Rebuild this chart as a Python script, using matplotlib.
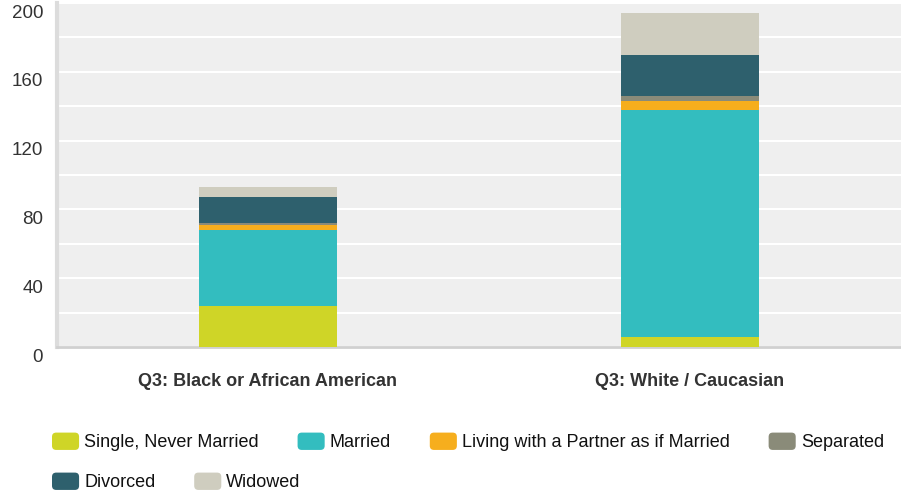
import matplotlib
matplotlib.use("Agg")
import matplotlib.pyplot as plt
import matplotlib.transforms as mtransforms
from matplotlib.patches import Patch, FancyBboxPatch
from matplotlib.legend_handler import HandlerPatch
import numpy as np

# data
categories = ["Q3: Black or African American", "Q3: White / Caucasian"]
series_names = ["Single, Never Married", "Married", "Living with a Partner as if Married",
                "Separated", "Divorced", "Widowed"]
single = [24, 6]
married = [44, 132]
living = [3, 5]
separated = [1, 3]
divorced = [15, 24]
widowed = [6, 24]
colors = ["#cfd527", "#33bdbf", "#f6ae1d", "#8a8b79", "#2e606d", "#cfcdbf"]
y_ticks = [0, 40, 80, 120, 160, 200]

plt.rcParams["font.family"] = ["Liberation Sans", "DejaVu Sans"]

fig = plt.figure(figsize=(9.01, 4.95), dpi=100)
ax = fig.add_axes([57 / 901, 1 - 347 / 495, 1 - 57 / 901, 344 / 495])
ax.set_facecolor("#efefef")

x = np.arange(len(categories))
bottom = np.zeros(len(categories))
for name, vals, c in zip(series_names, [single, married, living, separated, divorced, widowed], colors):
    ax.bar(x, vals, width=0.325, bottom=bottom, color=c, label=name, zorder=3)
    bottom += np.array(vals)

ax.set_xlim(-0.5, 1.5)
ax.set_ylim(0, 200)
ax.set_yticks(y_ticks)
ax.set_yticks(np.arange(20, 200, 20), minor=True)
ax.grid(True, axis="y", which="both", color="white", linewidth=1.5, zorder=1)
ax.tick_params(axis="y", which="both", length=0, labelsize=13.5, labelcolor="#333333", pad=10)
# labels sit a bit under their gridlines in the original
offset = mtransforms.ScaledTranslation(0, -8 / 100, fig.dpi_scale_trans)
for lab in ax.get_yticklabels():
    lab.set_transform(lab.get_transform() + offset)

ax.set_xticks(x)
ax.set_xticklabels(categories, fontweight="bold", fontsize=13, color="#333333")
ax.tick_params(axis="x", length=0, pad=19)

for s in ["top", "right"]:
    ax.spines[s].set_visible(False)
ax.spines["left"].set_color("#dcdcdc")
ax.spines["left"].set_linewidth(3)
ax.spines["bottom"].set_color("#d0d0d0")
ax.spines["bottom"].set_linewidth(2)


def rounded(legend, orig_handle, xdescent, ydescent, width, height, fontsize):
    return FancyBboxPatch((-xdescent, -ydescent), width, height,
                          boxstyle="round,pad=0,rounding_size=3")


handles = [Patch(facecolor=c, edgecolor="none") for c in colors]
hmap = {Patch: HandlerPatch(patch_func=rounded)}
leg_kw = dict(frameon=False, fontsize=13, handlelength=1.5, handleheight=1.1,
              handletextpad=0.28, columnspacing=2.15, borderpad=0, borderaxespad=0,
              loc="center left", handler_map=hmap, labelcolor="#111111")
fig.legend(handles[:4], series_names[:4], ncol=4,
           bbox_to_anchor=(52 / 901, 1 - 442 / 495), **leg_kw)
fig.legend(handles[4:], series_names[4:], ncol=2,
           bbox_to_anchor=(52 / 901, 1 - 482 / 495), **leg_kw)

fig.savefig("out.png", dpi=100, facecolor="white")
